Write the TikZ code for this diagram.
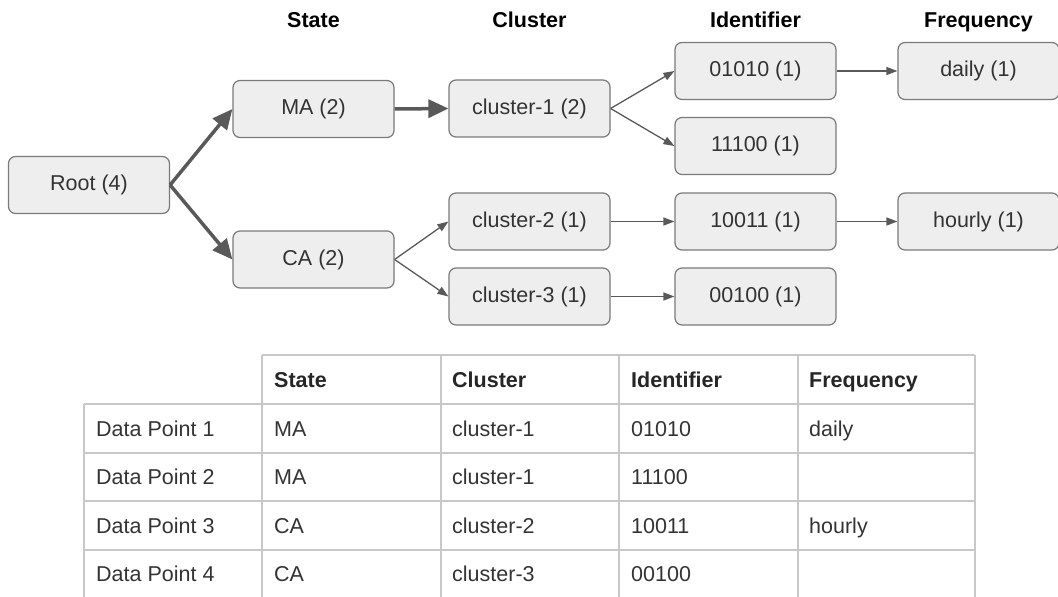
\documentclass[tikz,border=0pt]{standalone}
\usepackage{fontspec}
\setmainfont{Liberation Sans}
\usetikzlibrary{arrows.meta}
\definecolor{boxfill}{HTML}{EEEEEE}
\definecolor{boxdraw}{HTML}{7A7A7A}
\definecolor{arrowc}{HTML}{595959}
\definecolor{txt}{HTML}{333333}
\definecolor{tline}{HTML}{C8C8C8}
\begin{document}
\begin{tikzpicture}[x=1pt,y=-1pt,
  every node/.style={font=\fontsize{21.5}{25}\selectfont},
  box/.style={draw=boxdraw, fill=boxfill, rounded corners=7pt, line width=1.2pt,
    minimum width=161pt, minimum height=57pt, text=txt, inner sep=0pt},
  head/.style={font=\fontsize{21.5}{25}\selectfont\bfseries, text=black, inner sep=0pt,
    text height=15.4pt, text depth=0pt},
  thick arrow/.style={draw=arrowc, line width=3.5pt, -{Triangle[length=20pt,width=18pt]}},
  thin arrow/.style={draw=arrowc, line width=1.3pt, -{Triangle[length=11pt,width=8pt]}},
  grid line/.style={draw=tline, line width=1.3pt},
  cell/.style={anchor=west, inner sep=0pt, text height=15.4pt, text depth=0pt, text=txt},
  hcell/.style={cell, font=\fontsize{21.5}{25}\selectfont\bfseries, text=black!85}
]
\useasboundingbox (0,0) rectangle (1058,597);

% column headers
\node[head] (hState) at (313.5,20) {State};
\node[head] (hCluster) at (529.5,20) {Cluster};
\node[head] (hIdent) at (755.5,20) {Identifier};
\node[head] (hFreq) at (978.5,20) {Frequency};

% tree nodes
\node[box] (root) at (89,185) {Root (4)};
\node[box] (ma) at (313.5,109) {MA (2)};
\node[box] (ca) at (313.5,259.5) {CA (2)};
\node[box] (c1) at (529.5,108.5) {cluster-1 (2)};
\node[box] (c2) at (529.5,221.5) {cluster-2 (1)};
\node[box] (c3) at (529.5,296.5) {cluster-3 (1)};
\node[box] (i1) at (755.5,71) {01010 (1)};
\node[box] (i2) at (755.5,146) {11100 (1)};
\node[box] (i3) at (755.5,221.5) {10011 (1)};
\node[box] (i4) at (755.5,296.5) {00100 (1)};
\node[box] (f1) at (978.5,71) {daily (1)};
\node[box] (f3) at (978.5,221.5) {hourly (1)};

% connectors
\draw[thick arrow] (root.east) -- (ma.west);
\draw[thick arrow] (root.east) -- (ca.west);
\draw[thick arrow] (ma.east) -- (c1.west);
\draw[thin arrow] (ca.east) -- (c2.west);
\draw[thin arrow] (ca.east) -- (c3.west);
\draw[thin arrow] (c1.east) -- (i1.west);
\draw[thin arrow] (c1.east) -- (i2.west);
\draw[thin arrow] (c2.east) -- (i3.west);
\draw[thin arrow] (c3.east) -- (i4.west);
\draw[thin arrow] (i1.east) -- (f1.west);
\draw[thin arrow] (i3.east) -- (f3.west);

% table grid
\draw[grid line] (262,355) -- (975,355);
\foreach \y in {404,453,501,550} \draw[grid line] (84,\y) -- (975,\y);
\draw[grid line] (84,404) -- (84,597);
\foreach \x in {262,441,619,798,975} \draw[grid line] (\x,355) -- (\x,597);

% table header
\node[hcell] (thS) at (274,379.5) {State};
\node[hcell] (thC) at (452,379.5) {Cluster};
\node[hcell] (thI) at (631,379.5) {Identifier};
\node[hcell] (thF) at (809,379.5) {Frequency};

% row 1
\node[cell] (r1a) at (96,428.5) {Data Point 1};
\node[cell] (r1b) at (274,428.5) {MA};
\node[cell] (r1c) at (452,428.5) {cluster-1};
\node[cell] (r1d) at (631,428.5) {01010};
\node[cell] (r1e) at (809,428.5) {daily};
% row 2
\node[cell] (r2a) at (96,477) {Data Point 2};
\node[cell] (r2b) at (274,477) {MA};
\node[cell] (r2c) at (452,477) {cluster-1};
\node[cell] (r2d) at (631,477) {11100};
% row 3
\node[cell] (r3a) at (96,525.5) {Data Point 3};
\node[cell] (r3b) at (274,525.5) {CA};
\node[cell] (r3c) at (452,525.5) {cluster-2};
\node[cell] (r3d) at (631,525.5) {10011};
\node[cell] (r3e) at (809,525.5) {hourly};
% row 4
\node[cell] (r4a) at (96,573.5) {Data Point 4};
\node[cell] (r4b) at (274,573.5) {CA};
\node[cell] (r4c) at (452,573.5) {cluster-3};
\node[cell] (r4d) at (631,573.5) {00100};
\end{tikzpicture}
\end{document}
